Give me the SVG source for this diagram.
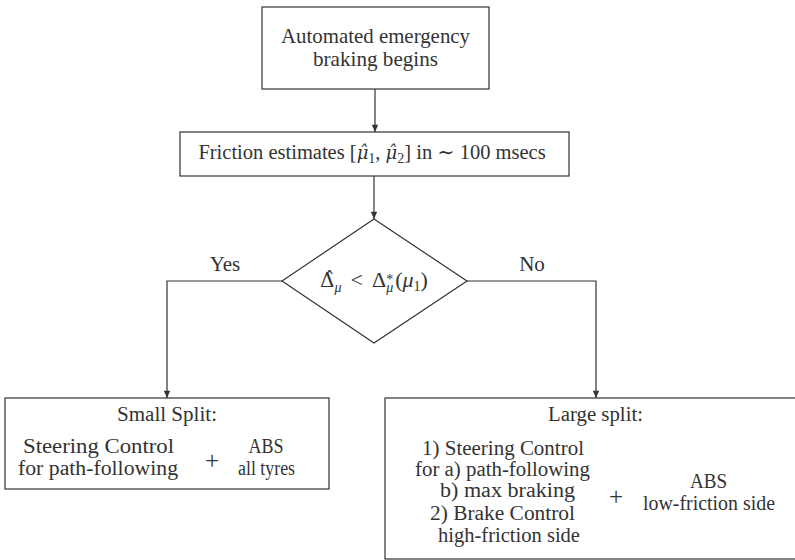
<svg xmlns="http://www.w3.org/2000/svg" width="795" height="560" viewBox="0 0 795 560">
<defs>
<marker id="arr" viewBox="0 0 8 10" refX="8" refY="5" markerWidth="8" markerHeight="9" markerUnits="userSpaceOnUse" orient="auto">
<path d="M0,1.5 L8,5 L0,8.5 z" fill="#333"/>
</marker>
</defs>
<style>
.box{fill:#fff;stroke:#333;stroke-width:1.2}
.t{font-family:"Liberation Serif","DejaVu Serif",serif;font-size:21px;fill:#333;text-anchor:middle}
.b{font-size:20px}
.p{font-size:25px}
.it{font-style:italic}
.dj{font-family:"DejaVu Serif",serif;font-size:18px}
.sub{font-size:14px}
.c{fill:none;stroke:#333;stroke-width:1.2}
</style>
<g id="connectors">
<line class="c" x1="375" y1="89" x2="375" y2="132" marker-end="url(#arr)"/>
<line class="c" x1="374" y1="176" x2="374" y2="219" marker-end="url(#arr)"/>
<polyline class="c" points="282,281 167,281 167,398" marker-end="url(#arr)"/>
<polyline class="c" points="467,281 596,281 596,398" marker-end="url(#arr)"/>
<text class="t" x="225" y="271">Yes</text>
<text class="t" x="532" y="271">No</text>
</g>
<g id="start">
<rect class="box" x="262" y="7" width="227" height="82"/>
<text class="t" x="375.5" y="43" textLength="189" lengthAdjust="spacingAndGlyphs">Automated emergency</text>
<text class="t" x="375.5" y="66" textLength="125" lengthAdjust="spacingAndGlyphs">braking begins</text>
</g>
<g id="estimate">
<rect class="box" x="180" y="132" width="389" height="44"/>
<text class="t" x="372" y="159" style="font-size:20.5px">Friction estimates [<tspan class="it dj">μ̂</tspan><tspan class="sub" dy="4">1</tspan><tspan dy="-4">, </tspan><tspan class="it dj">μ̂</tspan><tspan class="sub" dy="4">2</tspan><tspan dy="-4">] in ∼ 100 msecs</tspan></text>
</g>
<g id="decision">
<polygon class="box" points="374,219 467,281 374,343 282,281"/>
<text class="t" x="374" y="287" style="font-size:22px"><tspan class="dj" style="font-size:20px">Δ̂</tspan><tspan class="sub it" dy="5">μ</tspan><tspan dx="9" dy="-5">&lt;</tspan><tspan dx="9">Δ</tspan><tspan class="sub" dy="-3">*</tspan><tspan class="sub it" dx="-7" dy="8">μ</tspan><tspan dx="2" dy="-5">(</tspan><tspan class="it">μ</tspan><tspan class="sub" dy="4">1</tspan><tspan dy="-4">)</tspan></text>
</g>
<g id="small">
<rect class="box" x="5" y="398" width="324" height="91"/>
<text class="t b" x="167" y="421" textLength="100" lengthAdjust="spacingAndGlyphs">Small Split:</text>
<text class="t b" x="98.5" y="453" textLength="151" lengthAdjust="spacingAndGlyphs">Steering Control</text>
<text class="t b" x="98" y="475" textLength="160" lengthAdjust="spacingAndGlyphs">for path-following</text>
<text class="t p" x="212" y="469">+</text>
<text class="t b" x="266" y="453" textLength="35" lengthAdjust="spacingAndGlyphs">ABS</text>
<text class="t b" x="266.5" y="475" textLength="57" lengthAdjust="spacingAndGlyphs">all tyres</text>
</g>
<g id="large">
<rect class="box" x="385" y="398" width="420" height="161"/>
<text class="t b" x="595.5" y="421" textLength="95" lengthAdjust="spacingAndGlyphs">Large split:</text>
<text class="t b" x="503" y="455" textLength="162" lengthAdjust="spacingAndGlyphs">1) Steering Control</text>
<text class="t b" x="502.5" y="476" textLength="175" lengthAdjust="spacingAndGlyphs">for a) path-following</text>
<text class="t b" x="507.5" y="497" textLength="135" lengthAdjust="spacingAndGlyphs">b) max braking</text>
<text class="t b" x="502.5" y="520" textLength="145" lengthAdjust="spacingAndGlyphs">2) Brake Control</text>
<text class="t b" x="509" y="542" textLength="142" lengthAdjust="spacingAndGlyphs">high-friction side</text>
<text class="t p" x="616" y="505">+</text>
<text class="t b" x="708.5" y="488" textLength="37" lengthAdjust="spacingAndGlyphs">ABS</text>
<text class="t b" x="709" y="510" textLength="132" lengthAdjust="spacingAndGlyphs">low-friction side</text>
</g>
</svg>
